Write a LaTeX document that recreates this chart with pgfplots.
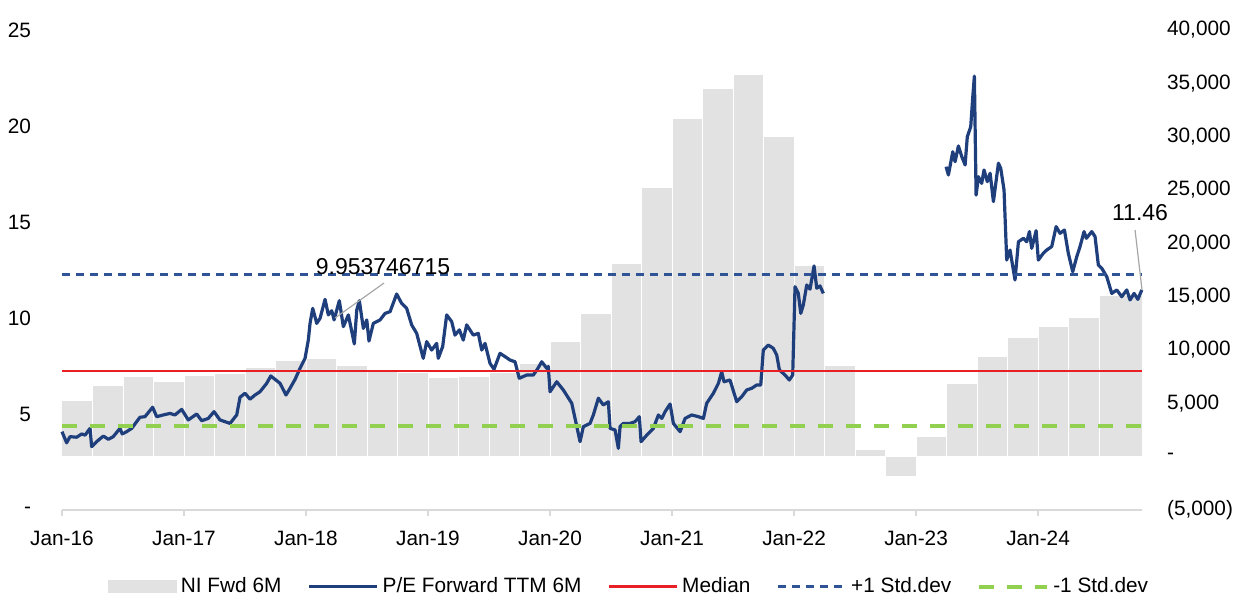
\documentclass[border=0pt]{standalone}
\usepackage{pgfplots}
\pgfplotsset{compat=1.18}
\usepackage{fontspec}
\setmainfont{Liberation Sans}
\definecolor{navy}{RGB}{31,62,124}
\definecolor{dnavy}{RGB}{47,84,150}
\definecolor{medred}{RGB}{232,32,38}
\definecolor{lgreen}{RGB}{146,208,80}
\definecolor{barcol}{RGB}{226,226,226}
\definecolor{axgray}{RGB}{217,217,217}
\definecolor{anngray}{RGB}{166,166,166}
\newcommand{\tf}{\fontsize{10.4}{12}\selectfont}
\pgfplotsset{
  linelegend/.style={legend image code/.code={\draw[##1] (0pt,0pt) -- (34pt,0pt);}},
  boxlegend/.style={legend image code/.code={\fill[barcol] (0pt,-3pt) rectangle (34pt,3pt);}},
}
\begin{document}
\begin{tikzpicture}
% ---------- bars (right axis) ----------
\begin{axis}[
  width=540pt, height=240pt, scale only axis,
  xmin=0, xmax=8.852, ymin=-5000, ymax=40000,
  enlargelimits=false,
  axis x line=none,
  axis y line*=right,
  y axis line style={draw=none},
  scaled y ticks=false,
  ytick={-5000,0,5000,10000,15000,20000,25000,30000,35000,40000},
  yticklabels={(5{,}000),-,5{,}000,10{,}000,15{,}000,20{,}000,25{,}000,30{,}000,35{,}000,40{,}000},
  major tick length=0pt,
  yticklabel style={font=\tf, anchor=west, xshift=9pt},
]
\addplot[ybar interval, fill=barcol, draw=white, line width=0.5pt] coordinates {
(0.00,5300) (0.25,6700) (0.50,7500) (0.75,7000) (1.00,7600) (1.25,7800)
(1.50,8350) (1.75,9000) (2.00,9200) (2.25,8550) (2.50,8200) (2.75,7900)
(3.00,7400) (3.25,7500) (3.50,7900) (3.75,8700) (4.00,10800) (4.25,13400)
(4.50,18100) (4.75,25200) (5.00,31700) (5.25,34500) (5.50,35800) (5.75,30000)
(6.00,17900) (6.25,8500) (6.50,650) (6.75,-1900) (7.00,1900) (7.25,6850)
(7.50,9400) (7.75,11200) (8.00,12200) (8.25,13000) (8.50,15100) (8.852,15100)
};
\end{axis}
% ---------- lines (left axis) ----------
\begin{axis}[
  width=540pt, height=240pt, scale only axis,
  xmin=0, xmax=8.852, ymin=0, ymax=25,
  enlargelimits=false, clip=false,
  axis y line*=left, axis x line*=bottom,
  y axis line style={draw=none},
  x axis line style={draw=axgray, line width=0.9pt, -},
  xtick={0,1,2,3,4,5,6,7,8},
  xticklabels={Jan-16,Jan-17,Jan-18,Jan-19,Jan-20,Jan-21,Jan-22,Jan-23,Jan-24},
  ytick={0,5,10,15,20,25},
  yticklabels={-,5,10,15,20,25},
  tick align=outside,
  x tick style={draw=axgray, line width=0.9pt},
  y tick style={draw=none},
  major tick length=3pt,
  xticklabel style={font=\tf, yshift=-4pt},
  yticklabel style={font=\tf, anchor=east, xshift=-9pt},
  legend style={at={(0.526,-0.160)}, anchor=center, draw=none, fill=none,
    font=\tf, legend columns=5, inner sep=0pt,
    /tikz/every even column/.append style={column sep=11pt}},
  legend cell align=left,
]
\addlegendimage{boxlegend}
\addlegendentry{NI Fwd 6M}
\addplot[navy, line width=1.6pt, line join=round, linelegend] coordinates {
(0.000,4.08) (0.038,3.50) (0.066,3.82) (0.120,3.79) (0.161,3.96) (0.189,3.90)
(0.230,4.25) (0.243,3.30) (0.284,3.56) (0.339,3.85) (0.380,3.68) (0.420,3.82)
(0.475,4.25) (0.494,3.96) (0.530,4.08) (0.571,4.25) (0.639,4.83) (0.680,4.86)
(0.743,5.35) (0.776,4.86) (0.830,4.95) (0.885,5.03) (0.926,4.95) (0.981,5.24)
(1.035,4.69) (1.104,5.00) (1.145,4.65) (1.199,4.77) (1.246,5.12) (1.295,4.69)
(1.377,4.51) (1.432,4.95) (1.459,5.87) (1.500,6.08) (1.541,5.77) (1.582,5.99)
(1.623,6.16) (1.678,6.60) (1.711,6.98) (1.787,6.60) (1.836,5.99) (1.869,6.34)
(1.910,6.80) (1.951,7.38) (1.992,7.90) (2.019,8.85) (2.033,9.72) (2.055,10.50)
(2.088,9.72) (2.115,9.98) (2.156,10.97) (2.183,10.16) (2.211,10.38) (2.230,9.90)
(2.273,10.90) (2.306,9.55) (2.347,10.16) (2.396,8.65) (2.416,10.42) (2.437,10.90)
(2.470,9.46) (2.498,9.90) (2.516,8.80) (2.552,9.72) (2.607,9.90) (2.648,10.24)
(2.689,10.33) (2.743,11.25) (2.784,10.76) (2.825,10.50) (2.866,9.64) (2.907,9.20)
(2.961,7.90) (2.989,8.77) (3.030,8.33) (3.071,8.68) (3.084,7.90) (3.120,8.51)
(3.153,10.16) (3.194,9.81) (3.221,9.11) (3.257,9.38) (3.289,8.85) (3.317,9.64)
(3.371,9.11) (3.412,9.20) (3.440,8.33) (3.467,8.68) (3.508,7.64) (3.541,7.33)
(3.590,8.16) (3.631,7.99) (3.672,7.81) (3.713,7.72) (3.748,6.86) (3.809,7.03)
(3.863,7.03) (3.896,7.33) (3.932,7.72) (3.973,7.38) (3.986,7.47) (4.000,6.16)
(4.055,6.68) (4.109,6.25) (4.178,5.56) (4.205,4.77) (4.246,3.56) (4.273,4.34)
(4.328,4.51) (4.355,4.95) (4.396,5.82) (4.437,5.47) (4.478,5.64) (4.492,4.25)
(4.533,4.17) (4.560,3.21) (4.574,4.34) (4.601,4.51) (4.656,4.51) (4.697,4.60)
(4.732,4.86) (4.746,3.56) (4.793,3.90) (4.847,4.25) (4.888,4.95) (4.916,4.77)
(4.943,5.12) (4.984,5.52) (5.011,4.51) (5.066,4.08) (5.107,4.77) (5.161,4.95)
(5.216,4.86) (5.257,4.77) (5.284,5.56) (5.339,6.08) (5.380,6.60) (5.407,7.20)
(5.426,6.68) (5.475,6.77) (5.530,5.64) (5.571,5.90) (5.612,6.25) (5.653,6.34)
(5.694,6.51) (5.727,6.51) (5.748,8.33) (5.789,8.59) (5.830,8.42) (5.858,8.07)
(5.880,7.29) (5.926,7.03) (5.961,6.77) (5.989,7.03) (6.008,11.63) (6.035,11.28)
(6.055,10.24) (6.076,10.68) (6.104,11.72) (6.131,11.50) (6.164,12.71) (6.186,11.55)
(6.213,11.67) (6.240,11.28)
};
\addlegendentry{P/E Forward TTM 6M}
\addplot[navy, line width=1.6pt, line join=round, forget plot] coordinates {
(7.246,17.88) (7.265,17.45) (7.301,18.66) (7.320,18.14) (7.347,18.96) (7.375,18.40)
(7.402,17.97) (7.420,19.44) (7.448,19.96) (7.465,21.53) (7.478,22.60) (7.492,16.40)
(7.511,17.36) (7.538,17.01) (7.557,17.71) (7.584,17.10) (7.607,17.54) (7.634,16.06)
(7.675,18.06) (7.694,17.80) (7.721,16.67) (7.743,13.02) (7.770,13.54) (7.811,11.98)
(7.839,13.97) (7.880,14.15) (7.907,13.97) (7.929,14.50) (7.948,13.63) (7.984,14.55)
(8.002,13.02) (8.043,13.37) (8.071,13.54) (8.112,13.72) (8.148,14.76) (8.180,14.41)
(8.216,14.58) (8.248,13.37) (8.284,12.41) (8.317,13.19) (8.344,13.72) (8.377,14.50)
(8.396,14.15) (8.440,14.50) (8.467,14.24) (8.494,12.76) (8.522,12.59) (8.563,12.15)
(8.604,11.28) (8.645,11.46) (8.686,11.11) (8.727,11.46) (8.754,10.94) (8.787,11.28)
(8.818,10.97) (8.850,11.46)
};
\addplot[medred, line width=1.4pt, linelegend] coordinates {(0,7.24) (8.852,7.24)};
\addlegendentry{Median}
\addplot[dnavy, line width=1.4pt, dash pattern=on 4pt off 3pt, linelegend] coordinates {(0,12.25) (8.852,12.25)};
\addlegendentry{+1 Std.dev}
\addplot[lgreen, line width=2pt, dash pattern=on 7.5pt off 6.5pt, linelegend] coordinates {(0,4.36) (8.852,4.36)};
\addlegendentry{-1 Std.dev}
% annotations
\draw[anngray, line width=0.6pt] (axis cs:2.238,10.0) -- (axis cs:2.639,11.82);
\node[font=\fontsize{11.5}{13}\selectfont, inner sep=0pt] at (axis cs:2.631,12.66) {9.953746715};
\draw[anngray, line width=0.6pt] (axis cs:8.795,14.58) -- (axis cs:8.852,11.46);
\node[font=\fontsize{11.5}{13}\selectfont, inner sep=0pt] at (axis cs:8.836,15.47) {11.46};
\coordinate (bbsw) at (rel axis cs:-0.0574,-0.1792);
\coordinate (bbne) at (rel axis cs:1.0972,1.0625);
\end{axis}
\pgfresetboundingbox
\path[use as bounding box] (bbsw) rectangle (bbne);
\end{tikzpicture}
\end{document}
